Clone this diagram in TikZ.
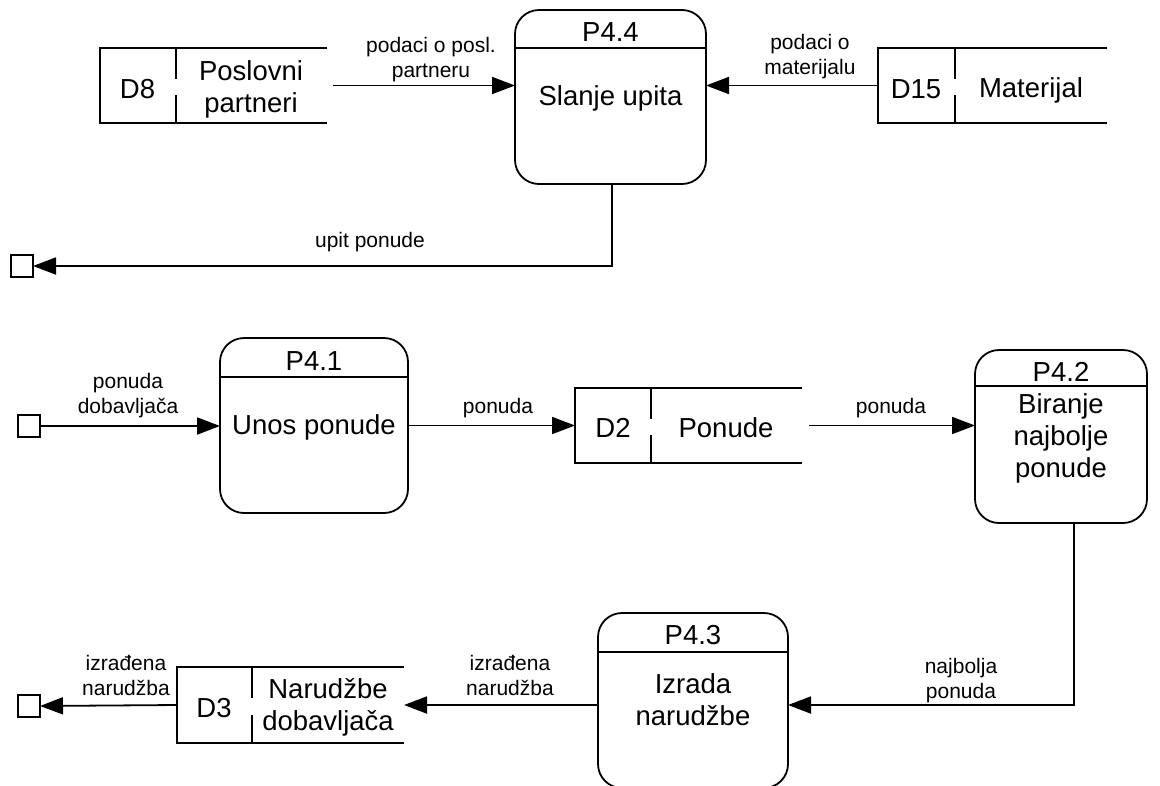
\documentclass[tikz,border=0pt]{standalone}
\usepackage{fontspec}
\setmainfont{Liberation Sans}
\usetikzlibrary{arrows.meta}
\begin{document}
\begin{tikzpicture}[x=1pt,y=-1pt,
  line width=1.8pt,
  proc/.style={draw, rounded corners=24pt, inner sep=0pt, outer sep=0pt},
  storebox/.style={inner sep=0pt, outer sep=0pt, minimum height=75pt},
  ext/.style={draw, minimum size=22pt, inner sep=0pt, outer sep=0pt, line width=1.5pt},
  big/.style={font=\fontsize{27.5}{32}\selectfont, align=center, inner sep=0pt, anchor=base},
  lbl/.style={font=\fontsize{21}{25}\selectfont, align=center, inner sep=0pt, anchor=base},
  flow/.style={-{Triangle[length=23pt,width=17pt]}},
]
\useasboundingbox (0,0) rectangle (1160,785);

% ---------- processes ----------
\node[proc, minimum width=191pt, minimum height=174pt] (p44) at (610.5,97) {};
\draw ([yshift=-38pt]p44.north west) -- ([yshift=-38pt]p44.north east);
\node[big] (p44t) at (610.5,41) {P4.4};
\node[big] (p44b) at (610.5,105) {Slanje upita};

\node[proc, minimum width=188pt, minimum height=175pt] (p41) at (314,425.5) {};
\draw ([yshift=-39pt]p41.north west) -- ([yshift=-39pt]p41.north east);
\node[big] (p41t) at (314,370) {P4.1};
\node[big] (p41b) at (314,434) {Unos ponude};

\node[proc, minimum width=172pt, minimum height=173pt] (p42) at (1061,436.5) {};
\draw ([yshift=-36pt]p42.north west) -- ([yshift=-36pt]p42.north east);
\node[big] (p42t) at (1061,381) {P4.2};
\node[big] (p42b) at (1061,477) {Biranje\\najbolje\\ponude};

\node[proc, minimum width=190pt, minimum height=175pt] (p43) at (693,700.5) {};
\draw ([yshift=-39pt]p43.north west) -- ([yshift=-39pt]p43.north east);
\node[big] (p43t) at (693,644) {P4.3};
\node[big] (p43b) at (693,725) {Izrada\\narudžbe};

% ---------- data stores ----------
\node[storebox, minimum width=227pt] (d8) at (213.5,85.5) {};
\draw (d8.north east) -- (d8.north west) -- (d8.south west) -- (d8.south east);
\draw ([xshift=76pt]d8.north west) -- ++(0,31);
\draw ([xshift=76pt]d8.south west) -- ++(0,-28);
\node[big] (d8a) at (137.5,98) {D8};
\node[big] (d8b) at (251,112) {Poslovni\\partneri};

\node[storebox, minimum width=229pt] (d15) at (992.5,85.5) {};
\draw (d15.north east) -- (d15.north west) -- (d15.south west) -- (d15.south east);
\draw ([xshift=77pt]d15.north west) -- ++(0,31);
\draw ([xshift=77pt]d15.south west) -- ++(0,-28);
\node[big] (d15a) at (916,98) {D15};
\node[big] (d15b) at (1031,97) {Materijal};

\node[storebox, minimum width=227pt] (d2) at (688.5,425.5) {};
\draw (d2.north east) -- (d2.north west) -- (d2.south west) -- (d2.south east);
\draw ([xshift=76pt]d2.north west) -- ++(0,31);
\draw ([xshift=76pt]d2.south west) -- ++(0,-28);
\node[big] (d2a) at (613,437) {D2};
\node[big] (d2b) at (726,437) {Ponude};

\node[storebox, minimum width=227pt, minimum height=76pt] (d3) at (290.5,705) {};
\draw (d3.north east) -- (d3.north west) -- (d3.south west) -- (d3.south east);
\draw ([xshift=75pt]d3.north west) -- ++(0,31);
\draw ([xshift=75pt]d3.south west) -- ++(0,-28);
\node[big] (d3a) at (214,717) {D3};
\node[big] (d3b) at (328,730) {Narudžbe\\dobavljača};

% ---------- external entities ----------
\node[ext] (e1) at (22,266) {};
\node[ext] (e2) at (29,426) {};
\node[ext] (e3) at (29,706) {};

% ---------- flows ----------
\draw[flow] ([xshift=6pt]d8.east) -- (d8.east -| p44.west);
\node[lbl] (l1) at (431,77) {podaci o posl.\\partneru};

\draw[flow] (d15.west) -- (d15.west -| p44.east);
\node[lbl] (l2) at (810,74) {podaci o\\materijalu};

\draw[flow] ([xshift=1.5pt]p44.south) |- (e1.east);
\node[lbl] (l3) at (370,247) {upit ponude};

\draw[flow] (e2.east) -- (e2.east -| p41.west);
\node[lbl] (l4) at (128,413) {ponuda\\dobavljača};

\draw[flow] (p41.east |- d2.west) -- (d2.west);
\node[lbl] (l5) at (498,413) {ponuda};

\draw[flow] ([xshift=7pt]d2.east) -- (d2.east -| p42.west);
\node[lbl] (l6) at (891,413) {ponuda};

\draw[flow] ([xshift=13pt]p42.south) |- (d3.east -| p43.east);
\node[lbl] (l7) at (961,698) {najbolja\\ponuda};

\draw[flow] (p43.west |- d3.east) -- (d3.east);
\node[lbl] (l8) at (510,695) {izrađena\\narudžba};

\draw[flow] (d3.west) -- (e3.east);
\node[lbl] (l9) at (126,695) {izrađena\\narudžba};
\end{tikzpicture}
\end{document}
